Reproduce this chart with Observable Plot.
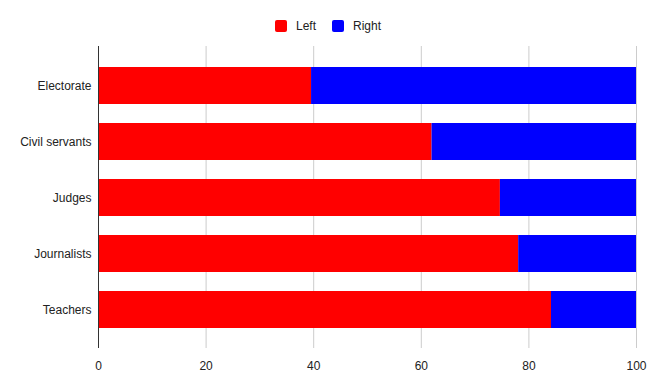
<!DOCTYPE html>
<html>
<head>
<meta charset="utf-8">
<script src="https://cdn.jsdelivr.net/npm/d3@7"></script>
<script src="https://cdn.jsdelivr.net/npm/@observablehq/plot@0.6"></script>
<style>
  body { margin: 0; background: #fff; font-family: "Liberation Sans", Arial, sans-serif; }
  #legend { height: 40px; display: flex; justify-content: center; align-items: center; padding-top: 12px; box-sizing: border-box; font-size: 12px; color: #222; }
  .item { display: flex; align-items: center; margin: 0 8px; }
  .sw { width: 12px; height: 12px; border-radius: 2px; margin-right: 9px; }
</style>
</head>
<body>
<div id="legend"></div>
<div id="chart"></div>
<script>
const categories = ["Electorate", "Civil servants", "Judges", "Journalists", "Teachers"];
const leftValues = [39.6, 62.0, 74.7, 78.1, 84.2];
const rightValues = leftValues.map(v => 100 - v);
const series = ["Left", "Right"];
const colors = ["#ff0000", "#0000ff"];
const xTicks = [0, 20, 40, 60, 80, 100];

const data = [];
categories.forEach((c, i) => {
  data.push({category: c, side: "Left", value: leftValues[i]});
  data.push({category: c, side: "Right", value: rightValues[i]});
});

const legend = document.getElementById("legend");
series.forEach((s, i) => {
  const it = document.createElement("div");
  it.className = "item";
  it.innerHTML = `<div class="sw" style="background:${colors[i]}"></div><span>${s}</span>`;
  legend.appendChild(it);
});

const chart = Plot.plot({
  width: 656,
  height: 347,
  marginTop: 6,
  marginBottom: 39,
  marginLeft: 98,
  marginRight: 20,
  style: {fontFamily: "'Liberation Sans', Arial, sans-serif", fontSize: "12px", color: "#222", background: "#fff"},
  x: {domain: [0, 100], ticks: xTicks, label: null},
  y: {domain: categories, range: [26, 289.5], paddingInner: 0.345, paddingOuter: 0, label: null},
  color: {domain: series, range: colors},
  marks: [
    Plot.gridX(xTicks, {stroke: "#cccccc", strokeOpacity: 1}),
    Plot.barX(data, Plot.stackX({y: "category", x: "value", fill: "side", order: series})),
    Plot.ruleX([0], {stroke: "#333"}),
    Plot.axisX({ticks: xTicks, tickSize: 0, tickPadding: 13, fill: "#222", label: null}),
    Plot.axisY({tickSize: 0, tickPadding: 7, fill: "#222", label: null})
  ]
});
document.getElementById("chart").appendChild(chart);
</script>
</body>
</html>
